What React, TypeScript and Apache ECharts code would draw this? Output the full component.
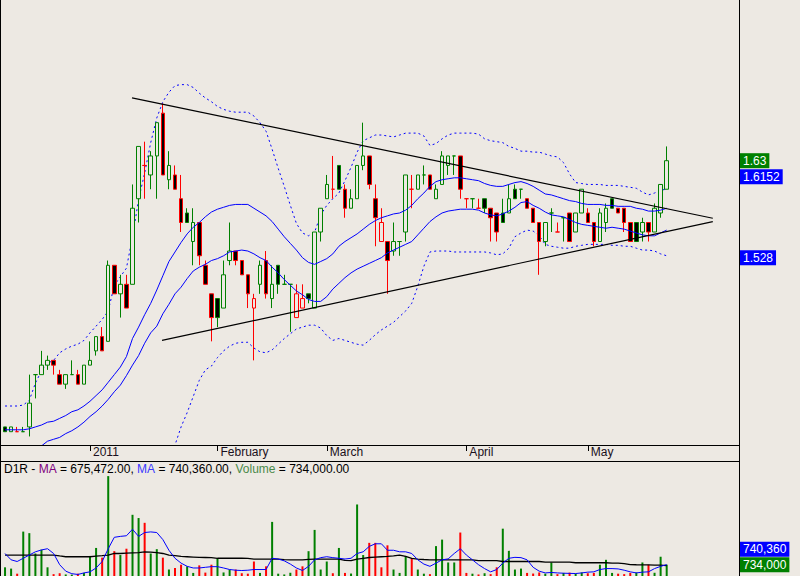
import React, { useEffect, useRef } from 'react';
import * as echarts from 'echarts';

const BG = '#EDE9E3';
const GREEN = '#008000';
const RED = '#FF0000';
const BLUE = '#0000FF';
const FONT = 'Arial, "Liberation Sans", sans-serif';

// trading days shown (SGX), per month
const tradingDays: [string, string][] = [
  ['2010-12', '14 15 16 17 20 21 22 23 24 27 28 29 30 31'],
  ['2011-01', '03 04 05 06 07 10 11 12 13 14 17 18 19 20 21 24 25 26 27 28 31'],
  ['2011-02', '01 02 07 08 09 10 11 14 15 16 17 18 21 22 23 24 25 28'],
  ['2011-03', '01 02 03 04 07 08 09 10 11 14 15 16 17 18 21 22 23 24 25 28 29 30 31'],
  ['2011-04', '01 04 05 06 07 08 11 12 13 14 15 18 19 20 21 25 26 27 28 29'],
  ['2011-05', '03 04 05 06 09 10 11 12 13 16 18 19 20 23'],
];
const dates = tradingDays.flatMap(([m, d]) => d.split(' ').map((x) => `${m}-${x}`));
const emptySlots = 11;
const categories = [...dates, ...Array.from({ length: emptySlots }, (_, k) => `+${k + 1}`)];

const tickLabels: Record<string, string> = {
  '2011-01-03': '2011',
  '2011-02-01': 'February',
  '2011-03-01': 'March',
  '2011-04-01': 'April',
  '2011-05-03': 'May',
};

// [open, close, low, high]
const ohlc: number[][] = [
  [1.350, 1.345, 1.345, 1.350], [1.345, 1.350, 1.345, 1.350], [1.345, 1.345, 1.345, 1.350], [1.345, 1.345, 1.345, 1.350],
  [1.350, 1.375, 1.340, 1.405], [1.405, 1.405, 1.380, 1.405], [1.405, 1.415, 1.405, 1.430], [1.415, 1.420, 1.410, 1.425],
  [1.420, 1.415, 1.405, 1.420], [1.405, 1.395, 1.395, 1.410], [1.395, 1.405, 1.390, 1.405], [1.405, 1.405, 1.405, 1.420],
  [1.405, 1.395, 1.395, 1.410], [1.395, 1.415, 1.395, 1.415], [1.415, 1.420, 1.415, 1.440], [1.430, 1.445, 1.425, 1.445],
  [1.445, 1.430, 1.430, 1.455], [1.440, 1.520, 1.440, 1.525], [1.520, 1.490, 1.490, 1.520], [1.490, 1.500, 1.465, 1.510],
  [1.500, 1.475, 1.475, 1.510], [1.500, 1.580, 1.500, 1.605], [1.590, 1.645, 1.565, 1.645], [1.625, 1.625, 1.590, 1.650],
  [1.615, 1.635, 1.600, 1.640], [1.635, 1.670, 1.590, 1.670], [1.680, 1.615, 1.615, 1.690], [1.610, 1.625, 1.600, 1.640],
  [1.615, 1.600, 1.600, 1.625], [1.590, 1.565, 1.555, 1.615], [1.575, 1.565, 1.565, 1.580], [1.545, 1.565, 1.520, 1.580],
  [1.565, 1.530, 1.520, 1.565], [1.520, 1.500, 1.500, 1.525], [1.490, 1.465, 1.440, 1.490], [1.485, 1.465, 1.455, 1.485],
  [1.475, 1.510, 1.475, 1.525], [1.525, 1.535, 1.520, 1.565], [1.535, 1.525, 1.520, 1.535], [1.525, 1.510, 1.510, 1.525],
  [1.510, 1.490, 1.475, 1.510], [1.475, 1.485, 1.420, 1.490], [1.500, 1.520, 1.490, 1.525], [1.525, 1.490, 1.485, 1.535],
  [1.485, 1.500, 1.475, 1.520], [1.520, 1.500, 1.490, 1.520], [1.500, 1.500, 1.500, 1.510], [1.500, 1.500, 1.450, 1.500],
  [1.465, 1.490, 1.465, 1.500], [1.475, 1.485, 1.475, 1.500], [1.490, 1.485, 1.480, 1.490], [1.475, 1.555, 1.475, 1.555],
  [1.555, 1.580, 1.545, 1.580], [1.590, 1.605, 1.590, 1.615], [1.600, 1.600, 1.590, 1.635], [1.625, 1.600, 1.600, 1.625],
  [1.600, 1.580, 1.570, 1.605], [1.580, 1.590, 1.580, 1.600], [1.590, 1.625, 1.590, 1.625], [1.625, 1.635, 1.620, 1.670],
  [1.635, 1.605, 1.600, 1.635], [1.590, 1.570, 1.540, 1.605], [1.545, 1.565, 1.545, 1.580], [1.545, 1.525, 1.490, 1.545],
  [1.535, 1.545, 1.530, 1.565], [1.545, 1.545, 1.530, 1.545], [1.555, 1.615, 1.545, 1.615], [1.600, 1.600, 1.580, 1.615],
  [1.600, 1.615, 1.600, 1.615], [1.615, 1.615, 1.605, 1.625], [1.615, 1.600, 1.600, 1.615], [1.590, 1.600, 1.590, 1.605],
  [1.605, 1.635, 1.605, 1.640], [1.625, 1.635, 1.615, 1.635], [1.635, 1.635, 1.615, 1.635], [1.635, 1.600, 1.590, 1.635],
  [1.590, 1.590, 1.580, 1.590], [1.590, 1.590, 1.580, 1.590], [1.580, 1.580, 1.580, 1.590], [1.590, 1.580, 1.575, 1.590],
  [1.580, 1.570, 1.545, 1.580], [1.575, 1.555, 1.545, 1.575], [1.575, 1.565, 1.565, 1.590], [1.575, 1.590, 1.575, 1.605],
  [1.600, 1.590, 1.590, 1.605], [1.600, 1.600, 1.590, 1.600], [1.590, 1.580, 1.580, 1.590], [1.580, 1.565, 1.565, 1.580],
  [1.565, 1.545, 1.510, 1.565], [1.545, 1.565, 1.540, 1.565], [1.575, 1.575, 1.555, 1.580], [1.555, 1.555, 1.555, 1.565],
  [1.570, 1.570, 1.545, 1.570], [1.575, 1.545, 1.545, 1.575], [1.555, 1.575, 1.555, 1.575], [1.575, 1.600, 1.575, 1.600],
  [1.575, 1.565, 1.565, 1.580], [1.565, 1.545, 1.540, 1.565], [1.545, 1.575, 1.545, 1.580], [1.565, 1.580, 1.555, 1.585],
  [1.590, 1.580, 1.580, 1.590], [1.580, 1.575, 1.575, 1.580], [1.580, 1.565, 1.555, 1.580], [1.565, 1.545, 1.545, 1.565],
  [1.565, 1.545, 1.545, 1.565], [1.555, 1.565, 1.545, 1.570], [1.565, 1.555, 1.545, 1.565], [1.555, 1.580, 1.555, 1.585],
  [1.575, 1.605, 1.570, 1.605], [1.600, 1.630, 1.600, 1.645],
];

// solid blue averages
const maHigh = [
  1.347, 1.347, 1.347, 1.347, 1.348, 1.350, 1.352, 1.355, 1.356, 1.359,
  1.362, 1.366, 1.368, 1.372, 1.377, 1.383, 1.389, 1.397, 1.405, 1.413,
  1.424, 1.443, 1.455, 1.468, 1.480, 1.494, 1.509, 1.524, 1.534, 1.544,
  1.553, 1.560, 1.565, 1.571, 1.576, 1.579, 1.581, 1.583, 1.584, 1.584,
  1.584, 1.580, 1.576, 1.572, 1.566, 1.558, 1.550, 1.543, 1.536, 1.528,
  1.523, 1.521, 1.524, 1.527, 1.532, 1.540, 1.545, 1.549, 1.553, 1.558,
  1.563, 1.567, 1.570, 1.572, 1.574, 1.575, 1.578, 1.583, 1.590, 1.596,
  1.603, 1.608, 1.610, 1.611, 1.612, 1.612, 1.611, 1.610, 1.609, 1.606,
  1.604, 1.603, 1.603, 1.605, 1.607, 1.608, 1.606, 1.603, 1.599, 1.595,
  1.594, 1.592, 1.590, 1.588, 1.587, 1.585, 1.584, 1.584, 1.584, 1.583,
  1.583, 1.582, 1.582, 1.582, 1.580, 1.579, 1.577, 1.577, 1.578, 1.580,
];
const maLow = [
  null, null, null, null, null, 1.325, 1.330, 1.335, 1.337, 1.339,
  1.343, 1.346, 1.350, 1.355, 1.361, 1.366, 1.372, 1.379, 1.387, 1.394,
  1.404, 1.415, 1.425, 1.438, 1.449, 1.456, 1.469, 1.479, 1.490, 1.497,
  1.506, 1.514, 1.518, 1.521, 1.525, 1.527, 1.530, 1.534, 1.535, 1.536,
  1.535, 1.532, 1.528, 1.525, 1.518, 1.512, 1.505, 1.499, 1.493, 1.489,
  1.484, 1.482, 1.482, 1.487, 1.495, 1.501, 1.507, 1.512, 1.516, 1.519,
  1.522, 1.525, 1.528, 1.533, 1.536, 1.539, 1.542, 1.545, 1.552, 1.559,
  1.566, 1.571, 1.575, 1.577, 1.578, 1.579, 1.579, 1.579, 1.578, 1.575,
  1.573, 1.572, 1.574, 1.577, 1.581, 1.586, 1.587, 1.583, 1.580, 1.576,
  1.573, 1.572, 1.571, 1.568, 1.565, 1.563, 1.562, 1.561, 1.560, 1.559,
  1.560, 1.559, 1.558, 1.556, 1.554, 1.552, 1.551, 1.551, 1.554, 1.557,
];
// dotted bands
const bandUpper = [
  1.372, 1.372, 1.372, 1.373, 1.378, 1.396, 1.409, 1.417, 1.420, 1.428,
  1.432, 1.435, 1.437, 1.441, 1.449, 1.456, 1.463, 1.472, 1.499, 1.508,
  1.517, 1.550, 1.589, 1.617, 1.649, 1.675, 1.692, 1.702, 1.709, 1.710,
  1.710, 1.707, 1.701, 1.696, 1.692, 1.687, 1.684, 1.682, 1.681, 1.681,
  1.681, 1.677, 1.670, 1.661, 1.642, 1.622, 1.603, 1.583, 1.564, 1.554,
  1.551, 1.555, 1.573, 1.583, 1.590, 1.596, 1.609, 1.623, 1.639, 1.651,
  1.654, 1.657, 1.657, 1.656, 1.655, 1.657, 1.659, 1.659, 1.659, 1.656,
  1.646, 1.648, 1.653, 1.657, 1.659, 1.659, 1.659, 1.659, 1.658, 1.653,
  1.651, 1.650, 1.649, 1.645, 1.643, 1.640, 1.640, 1.639, 1.639, 1.637,
  1.635, 1.634, 1.628, 1.616, 1.607, 1.606, 1.605, 1.605, 1.605, 1.604,
  1.604, 1.604, 1.603, 1.602, 1.601, 1.597, 1.594, 1.596, 1.599, 1.600,
];
const bandLower = [
  null, null, null, null, null, null, null, null, null, null,
  null, null, null, null, null, null, null, null, null, null,
  null, null, null, null, null, null, 1.294, 1.312, 1.331, 1.350,
  1.365, 1.382, 1.399, 1.410, 1.414, 1.423, 1.430, 1.435, 1.438, 1.439,
  1.439, 1.433, 1.429, 1.428, 1.431, 1.437, 1.443, 1.448, 1.453, 1.455,
  1.457, 1.457, 1.454, 1.446, 1.441, 1.443, 1.441, 1.439, 1.437, 1.436,
  1.441, 1.447, 1.452, 1.456, 1.460, 1.466, 1.472, 1.480, 1.498, 1.519,
  1.534, 1.535, 1.535, 1.535, 1.534, 1.534, 1.534, 1.534, 1.534, 1.534,
  1.533, 1.531, 1.532, 1.538, 1.550, 1.554, 1.557, 1.556, 1.551, 1.542,
  1.540, 1.539, 1.538, 1.538, 1.540, 1.541, 1.542, 1.542, 1.542, 1.542,
  1.541, 1.541, 1.540, 1.540, 1.538, 1.536, 1.536, 1.535, 1.532, 1.530,
];

// triangle trend lines: [slot position, price]
const trendUpper = [[20.92, 1.696], [116.6, 1.5695]];
const trendLower = [[25.86, 1.441], [116.6, 1.566]];

const volumes = [
  564000, 481000, 150000, 2880000, 2780000, 1460000, 1710000, 564000, 120000, 180000,
  100000, 90000, 150000, 200000, 1300000, 1820000, 1190000, 6480000, 1610000, 1360000,
  1770000, 3970000, 3760000, 3450000, 1460000, 1740000, 1190000, 420000, 520000, 733000,
  627000, 200000, 690000, 220000, 733000, 1150000, 230000, 420000, 420000, 180000,
  150000, 940000, 200000, 627000, 3510000, 150000, 100000, 210000, 420000, 627000,
  1610000, 2990000, 420000, 940000, 180000, 1820000, 200000, 160000, 4640000, 1360000,
  2150000, 2150000, 564000, 1990000, 420000, 200000, 1300000, 1150000, 420000, 150000,
  120000, 1940000, 2360000, 878000, 878000, 2820000, 200000, 150000, 100000, 180000,
  120000, 564000, 3070000, 1630000, 420000, 481000, 200000, 160000, 230000, 150000,
  878000, 120000, 200000, 220000, 150000, 230000, 180000, 200000, 733000, 1050000,
  200000, 150000, 120000, 200000, 230000, 878000, 733000, 210000, 1250000, 734000,
];
const volMaLong = [
  1360000, 1360000, 1360000, 1360000, 1360000, 1360000, 1360000, 1360000, 1360000, 1300000,
  1250000, 1250000, 1250000, 1250000, 1250000, 1290000, 1320000, 1360000, 1460000, 1460000,
  1480000, 1500000, 1520000, 1570000, 1550000, 1520000, 1460000, 1360000, 1320000, 1270000,
  1250000, 1230000, 1210000, 1200000, 1190000, 1150000, 1150000, 1150000, 1150000, 1150000,
  1140000, 1100000, 1100000, 1100000, 1100000, 1100000, 1060000, 1050000, 1050000, 1050000,
  1080000, 1100000, 1100000, 1100000, 1100000, 1100000, 1010000, 1000000, 1100000, 1150000,
  1200000, 1230000, 1250000, 1270000, 1300000, 1360000, 1270000, 1150000, 1100000, 1070000,
  1050000, 1050000, 1050000, 1050000, 1050000, 1050000, 1050000, 1050000, 1000000, 1000000,
  1000000, 1000000, 940000, 940000, 940000, 940000, 940000, 940000, 940000, 900000,
  900000, 900000, 900000, 900000, 860000, 860000, 860000, 860000, 860000, 860000,
  836000, 836000, 800000, 740000, 730000, 725000, 720000, 710000, 700000, 675472,
];
const volMaShort = [
  1460000, 1050000, 940000, 1150000, 1360000, 1570000, 1690000, 1770000, 1460000, 733000,
  314000, 150000, 100000, 200000, 270000, 520000, 940000, 1770000, 2510000, 2570000,
  2610000, 3030000, 2570000, 2820000, 2860000, 2820000, 2360000, 1670000, 1150000, 836000,
  627000, 520000, 520000, 564000, 606000, 606000, 520000, 420000, 376000, 355000,
  376000, 420000, 420000, 420000, 1150000, 1100000, 983000, 773000, 520000, 355000,
  627000, 1050000, 1190000, 1250000, 1190000, 1150000, 1100000, 1150000, 1460000, 1570000,
  1920000, 2090000, 2090000, 1670000, 1670000, 1570000, 1570000, 1460000, 1050000, 773000,
  627000, 836000, 1050000, 1110000, 1460000, 1770000, 1360000, 1050000, 733000, 481000,
  270000, 420000, 836000, 1150000, 1210000, 1190000, 1050000, 564000, 314000, 200000,
  230000, 200000, 180000, 170000, 160000, 200000, 250000, 270000, 420000, 481000,
  481000, 460000, 376000, 270000, 200000, 250000, 270000, 481000, 627000, 740360,
];

const priceTags = [
  { value: 1.63, color: GREEN, primary: true },
  { value: 1.6152, color: BLUE, primary: false },
  { value: 1.528, color: BLUE, primary: false },
];
const volumeTags = [
  { value: 734000, color: GREEN, primary: true },
  { value: 740360, color: BLUE, primary: false },
];

const PRICE_MIN = 1.331;
const PRICE_MAX = 1.799;
const VOL_MAX = 7460000;

const edgeColor = (i: number) => {
  const c = ohlc[i][1];
  const prev = i > 0 ? ohlc[i - 1][1] : c;
  return c >= prev ? GREEN : RED;
};

const fmt2 = (v: number) => v.toLocaleString('en-US', { minimumFractionDigits: 2, maximumFractionDigits: 2 });

export default function App() {
  const ref = useRef<HTMLDivElement>(null);
  useEffect(() => {
    if (!ref.current) return;
    const chart = echarts.init(ref.current, undefined, { renderer: 'svg' });
    const isTick = (_i: number, v: string) => v in tickLabels;
    const candleData = ohlc.map((d, i) => {
      const edge = edgeColor(i);
      const fill = d[1] < d[0] ? '#000000' : BG;
      return {
        value: d,
        itemStyle: { color: fill, color0: fill, borderColor: edge, borderColor0: edge, borderColorDoji: edge, borderWidth: 1 },
      };
    });
    const volData = volumes.map((v, i) => ({ value: v, itemStyle: { color: edgeColor(i) } }));
    const thin = (color: string, dashed = false, width = 1) => ({
      type: 'line', showSymbol: false, symbol: 'none', silent: true, connectNulls: false,
      lineStyle: { color, width, type: dashed ? [2, 3] : 'solid' },
    });
    const lastLong = volMaLong[volMaLong.length - 1];
    const lastShort = volMaShort[volMaShort.length - 1];
    const lastVol = volumes[volumes.length - 1];
    const option: any = {
      animation: false,
      backgroundColor: BG,
      title: {
        left: 4, top: 463, padding: 0,
        text: `{k|D1R - }{m1|MA}{k| = ${fmt2(lastLong)}, }{m2|MA}{k| = ${fmt2(lastShort)}, }{v|Volume}{k| = ${fmt2(lastVol)}}`,
        textStyle: {
          fontSize: 12, fontFamily: FONT, fontWeight: 'normal', color: '#000',
          rich: {
            k: { color: '#000', fontSize: 12, fontFamily: FONT },
            m1: { color: '#800080', fontSize: 12, fontFamily: FONT },
            m2: { color: '#3a3aff', fontSize: 12, fontFamily: FONT },
            v: { color: '#4a8a4a', fontSize: 12, fontFamily: FONT },
          },
        },
      },
      grid: [
        { left: 2, top: 0, width: 734.5, height: 445 },
        { left: 2, top: 461, width: 734.5, height: 119 },
      ],
      xAxis: [
        {
          type: 'category', gridIndex: 0, data: categories, boundaryGap: true,
          axisLine: { show: false },
          axisTick: { show: true, alignWithLabel: true, interval: isTick, length: 6, lineStyle: { color: '#000', width: 1 } },
          axisLabel: {
            show: true, interval: isTick, formatter: (v: string) => tickLabels[v] || '',
            align: 'left', verticalAlign: 'top', margin: 1, padding: [0, 0, 0, 3],
            color: '#1a1020', fontSize: 12, fontFamily: FONT,
          },
          splitLine: { show: false },
        },
        { type: 'value', gridIndex: 0, min: -0.5, max: categories.length - 0.5, show: false },
        { type: 'category', gridIndex: 1, data: categories, boundaryGap: true, show: false },
      ],
      yAxis: [
        { type: 'value', gridIndex: 0, min: PRICE_MIN, max: PRICE_MAX, show: false, splitLine: { show: false } },
        { type: 'value', gridIndex: 1, min: 0, max: VOL_MAX, show: false, splitLine: { show: false } },
      ],
      series: [
        { ...thin(BLUE, true), name: 'bandUpper', data: bandUpper, z: 2 },
        { ...thin(BLUE, true), name: 'bandLower', data: bandLower, z: 2 },
        { type: 'candlestick', name: 'price', data: candleData, barWidth: 4, z: 3, silent: true },
        { ...thin(BLUE), name: 'maHigh', data: maHigh, z: 4 },
        { ...thin(BLUE), name: 'maLow', data: maLow, z: 4 },
        { ...thin('#000000', false, 1.2), name: 'trendUpper', xAxisIndex: 1, data: trendUpper, z: 5 },
        { ...thin('#000000', false, 1.2), name: 'trendLower', xAxisIndex: 1, data: trendLower, z: 5 },
        { type: 'bar', name: 'volume', xAxisIndex: 2, yAxisIndex: 1, data: volData, barWidth: 2, silent: true, z: 2 },
        { ...thin('#000000', false, 1.3), name: 'volMaLong', xAxisIndex: 2, yAxisIndex: 1, data: volMaLong, z: 3 },
        { ...thin(BLUE), name: 'volMaShort', xAxisIndex: 2, yAxisIndex: 1, data: volMaShort, z: 4 },
      ],
    };
    chart.setOption(option);

    const H = 15;
    const makeTags = (tags: { value: number; color: string; primary: boolean }[], yAxisIndex: number, text: (v: number) => string) => {
      const primary = tags.find((t) => t.primary)!;
      const py = chart.convertToPixel({ yAxisIndex }, primary.value) as number;
      return tags.map((t) => {
        let y = t.primary ? py : (chart.convertToPixel({ yAxisIndex }, t.value) as number);
        if (!t.primary && Math.abs(y - py) < H) y = t.value > primary.value ? py - H - 0.5 : py + H + 1;
        return {
          type: 'text', x: 740, y, z: 100,
          style: {
            text: text(t.value), fill: '#FFFFFF', backgroundColor: t.color,
            font: `12px ${FONT}`, lineHeight: 13, padding: [1, 3, 1, 3], verticalAlign: 'middle', align: 'left',
          },
        };
      });
    };
    const line = (x1: number, y1: number, x2: number, y2: number) => ({
      type: 'line', z: 50, shape: { x1, y1, x2, y2 }, style: { stroke: '#000', lineWidth: 1 },
    });
    chart.setOption({
      graphic: [
        line(0.5, 0, 0.5, 576),
        line(739.5, 0, 739.5, 576),
        line(0, 445.5, 739.5, 445.5),
        line(0, 461.5, 739.5, 461.5),
        ...makeTags(priceTags, 0, (v) => String(v)),
        ...makeTags(volumeTags, 1, (v) => v.toLocaleString('en-US')),
      ],
    });
    return () => chart.dispose();
  }, []);
  return <div ref={ref} style={{ position: 'fixed', left: 0, top: 0, width: 800, height: 576 }} />;
}
